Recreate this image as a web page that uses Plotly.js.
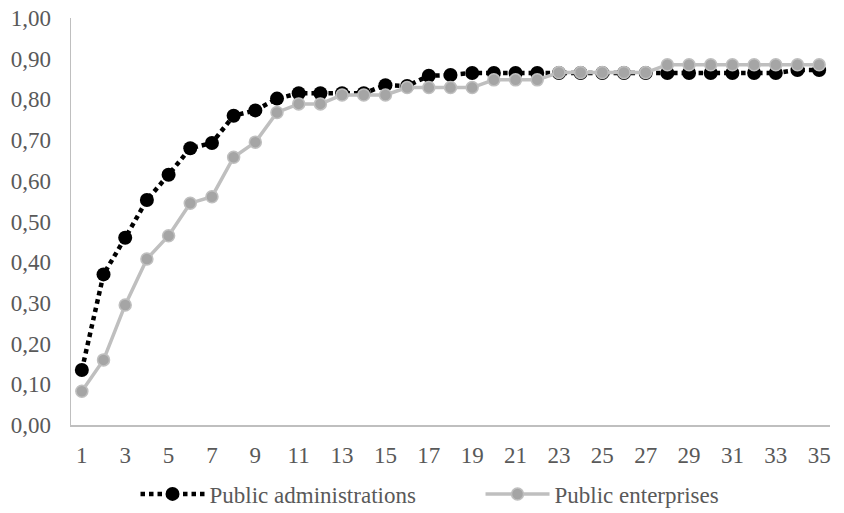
<!DOCTYPE html>
<html>
<head>
<meta charset="utf-8">
<script src="https://cdn.plot.ly/plotly-3.0.1.min.js"></script>
<style>html,body{margin:0;padding:0;background:#fff;}#chart{width:844px;height:513px;}</style>
</head>
<body>
<div id="chart"></div>
<script>
var categories = [1,2,3,4,5,6,7,8,9,10,11,12,13,14,15,16,17,18,19,20,21,22,23,24,25,26,27,28,29,30,31,32,33,34,35];
var publicAdministrations = [0.135,0.37,0.46,0.553,0.615,0.68,0.693,0.76,0.773,0.802,0.815,0.815,0.815,0.815,0.835,0.833,0.858,0.86,0.865,0.865,0.865,0.865,0.865,0.865,0.865,0.865,0.865,0.865,0.865,0.865,0.865,0.865,0.865,0.872,0.872];
var publicEnterprises = [0.083,0.16,0.295,0.408,0.465,0.545,0.561,0.658,0.695,0.768,0.789,0.789,0.811,0.811,0.811,0.829,0.829,0.829,0.829,0.848,0.848,0.848,0.866,0.866,0.866,0.866,0.866,0.885,0.885,0.885,0.885,0.885,0.885,0.885,0.885];
var xTicks = [1,3,5,7,9,11,13,15,17,19,21,23,25,27,29,31,33,35];
var yTicks = [0,0.1,0.2,0.3,0.4,0.5,0.6,0.7,0.8,0.9,1.0];
var yTickText = ["0,00","0,10","0,20","0,30","0,40","0,50","0,60","0,70","0,80","0,90","1,00"];

var traces = [
  {
    x: categories, y: publicAdministrations, name: "Public administrations",
    type: "scatter", mode: "lines+markers",
    line: {color: "#000000", width: 4.5, dash: "4.5px,4px"},
    marker: {color: "#000000", size: 14, line: {width: 0}}
  },
  {
    x: categories, y: publicEnterprises, name: "Public enterprises",
    type: "scatter", mode: "lines+markers",
    line: {color: "#bfbfbf", width: 3.5},
    marker: {color: "#a5a5a5", size: 12, line: {color: "#bfbfbf", width: 1.5}}
  }
];

var layout = {
  width: 844, height: 513,
  margin: {l: 71, r: 14, t: 18, b: 88},
  paper_bgcolor: "#ffffff", plot_bgcolor: "#ffffff",
  font: {family: "Liberation Serif, Times New Roman, serif", size: 23, color: "#595959"},
  showlegend: true,
  legend: {orientation: "h", x: 0.085, xanchor: "left", xref: "paper",
           y: 0.079, yanchor: "top", yref: "container",
           font: {size: 23, color: "#595959"}, itemwidth: 64, traceorder: "normal",
           entrywidth: 266, entrywidthmode: "pixels"},
  xaxis: {
    range: [0.5, 35.5], tickmode: "array", tickvals: xTicks, ticktext: xTicks.map(String),
    showgrid: false, zeroline: false, showline: true, linecolor: "#bfbfbf", linewidth: 1.5,
    ticks: "", ticklabelstandoff: 9
  },
  yaxis: {
    range: [0, 1], tickmode: "array", tickvals: yTicks, ticktext: yTickText,
    showgrid: false, zeroline: false, showline: true, linecolor: "#bfbfbf", linewidth: 1.5,
    ticks: "", ticklabelstandoff: 14
  }
};

Plotly.newPlot("chart", traces, layout, {staticPlot: true, displayModeBar: false});
</script>
</body>
</html>
